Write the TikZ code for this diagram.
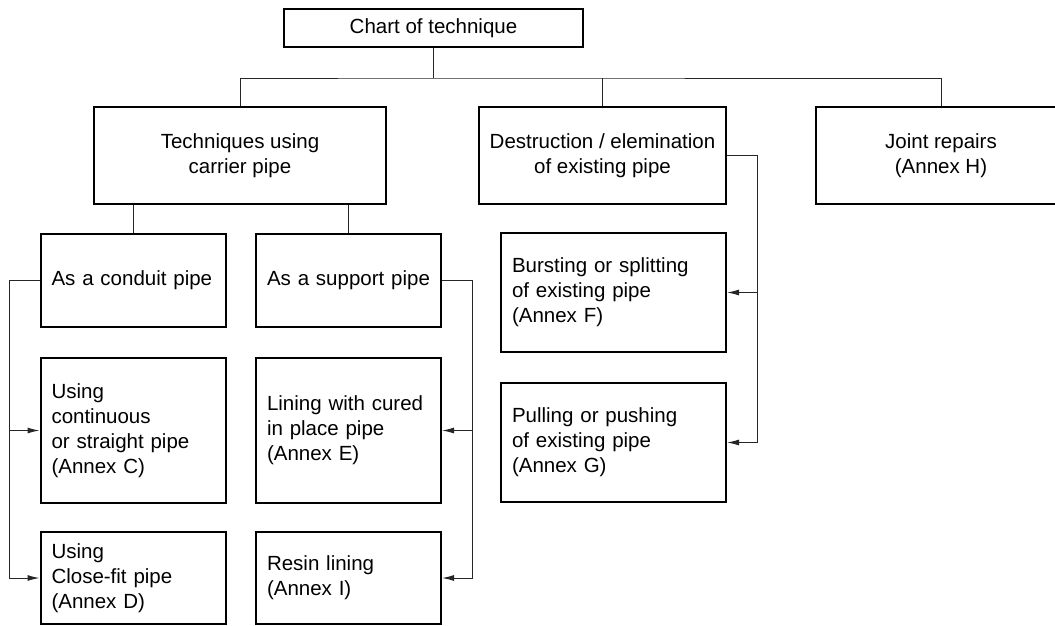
\documentclass[tikz,border=0pt]{standalone}
\usepackage{fontspec}
\setmainfont{Liberation Sans}
\usetikzlibrary{arrows.meta}

\begin{document}
\begin{tikzpicture}[x=1pt,y=-1pt,>={Latex[length=12pt,width=6pt]},
  box/.style={draw, line width=2pt, inner sep=0pt, font=\fontsize{20.5}{25}\selectfont},
  midbox/.style={box, align=center},
  leftbox/.style={box, align=left, inner xsep=11pt, text width=#1-22pt, minimum width=#1},
  link/.style={line width=1pt, draw=black!85}]
  \useasboundingbox (0,0) rectangle (1055,625);

  % Column and row levels
  \def\COLA{133}
  \def\COLB{348.5}
  \def\COLC{613.5}
  \def\ROWT{155.5}

  % --- Top of the chart ---
  \node[box, minimum width=299pt, minimum height=38pt] (chart) at (433.5,28) {Chart of technique};

  % --- Main groups ---
  \node[midbox, minimum width=292pt, minimum height=97pt] (tech) at (240,\ROWT) {Techniques using\\carrier pipe};
  \node[midbox, minimum width=247pt, minimum height=97pt] (destr) at (602.5,\ROWT) {Destruction / elemination\\of existing pipe};
  \node[midbox, minimum width=250pt, minimum height=97pt] (joint) at (941,\ROWT) {Joint repairs\\(Annex H)};

  % --- Carrier pipe lane ---
  \node[leftbox=185pt, minimum height=93pt] (conduit) at (\COLA,280.5) {As a conduit pipe};
  \node[leftbox=185pt, minimum height=93pt] (support) at (\COLB,280.5) {As a support pipe};
  \node[leftbox=185pt, minimum height=145pt] (contC) at (\COLA,430.5) {Using\\continuous\\or straight pipe\\(Annex C)};
  \node[leftbox=185pt, minimum height=145pt] (cured) at (\COLB,430.5) {Lining with cured\\in place pipe\\(Annex E)};
  \node[leftbox=185pt, minimum height=92pt] (fitD) at (\COLA,578) {Using\\Close-fit pipe\\(Annex D)};
  \node[leftbox=185pt, minimum height=92pt] (resin) at (\COLB,578) {Resin lining\\(Annex I)};

  % --- Destruction lane ---
  \node[leftbox=225pt, minimum height=119pt] (burst) at (\COLC,292.5) {Bursting or splitting\\of existing pipe\\(Annex F)};
  \node[leftbox=225pt, minimum height=119pt] (pull) at (\COLC,442.5) {Pulling or pushing\\of existing pipe\\(Annex G)};

  % Tree lines
  \draw[link] (chart.south) -- ++(0,30) coordinate (hub);
  \draw[link] (tech.north) |- (hub) -| (joint.north);
  \draw[link] (destr.north) -- (destr.north |- hub);
  \draw[link] (conduit.north |- tech.south) -- (conduit.north);
  \draw[link] (support.north |- tech.south) -- (support.north);

  % Feeders with arrows
  \draw[link,->] (conduit.west) -- ++(-30,0) |- (contC.west);
  \draw[link,->] (conduit.west) -- ++(-30,0) |- (fitD.west);
  \draw[link,->] (support.east) -- ++(30,0) |- (cured.east);
  \draw[link,->] (support.east) -- ++(30,0) |- (resin.east);
  \draw[link,->] (destr.east) -- ++(30,0) |- (burst.east);
  \draw[link,->] (destr.east) -- ++(30,0) |- (pull.east);
\end{tikzpicture}
\end{document}
